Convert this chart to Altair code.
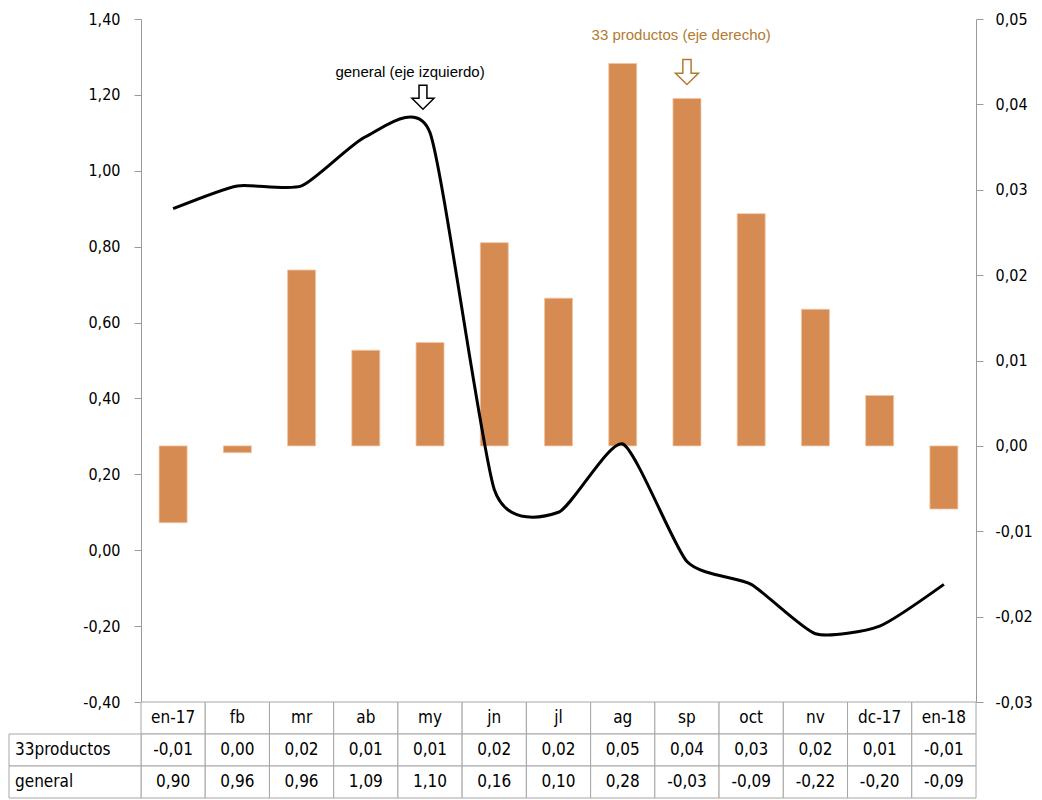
import altair as alt
import pandas as pd

meses = ["en-17", "fb", "mr", "ab", "my", "jn", "jl", "ag", "sp", "oct", "nv", "dc-17", "en-18"]
productos33 = [-0.0090, -0.0008, 0.0206, 0.0112, 0.0121, 0.0238, 0.0173, 0.0448, 0.0407, 0.0272, 0.0160, 0.0059, -0.0074]
productos33_tabla = ["-0,01", "0,00", "0,02", "0,01", "0,01", "0,02", "0,02", "0,05", "0,04", "0,03", "0,02", "0,01", "-0,01"]
general = [0.90, 0.96, 0.96, 1.09, 1.10, 0.16, 0.10, 0.28, -0.03, -0.09, -0.22, -0.20, -0.09]
filas = ["encabezado", "33productos", "general"]
ticks_izq = [-0.4, -0.2, 0.0, 0.2, 0.4, 0.6, 0.8, 1.0, 1.2, 1.4]
ticks_der = [-0.03, -0.02, -0.01, 0.0, 0.01, 0.02, 0.03, 0.04, 0.05]

anot_gen_texto = ["general (eje izquierdo)"]
anot_gen_mes = ["my"]
anot_gen_valor = [1.26]
flecha_gen_valor = [1.194]
anot_p33_texto = ["33 productos (eje derecho)"]
anot_p33_mes = ["sp"]
anot_p33_valor = [0.0481]
flecha_p33_valor = [0.0438]

NARANJA = "#D68B52"
MARRON = "#B47A30"
GRIS = "#9A9A9A"
FUENTE = "DejaVu Sans Condensed, DejaVu Sans"
FLECHA = "M -0.33 -1 L 0.33 -1 L 0.33 0.1 L 0.92 0.1 L 0 1 L -0.92 0.1 L -0.33 0.1 Z"

W, H = 835, 683

df = pd.DataFrame({"mes": meses, "p33": productos33, "gen": general})
xscale = alt.Scale(domain=meses, paddingInner=0, paddingOuter=0)
fmt = "replace(replace(format(datum.value, '.2f'), '.', ','), '\u2212', '-')"

yizq = alt.Scale(domain=[-0.4, 1.4], nice=False, zero=False)
yder = alt.Scale(domain=[-0.03, 0.05], nice=False, zero=False)

linea = alt.Chart(df).mark_line(color="black", strokeWidth=3, interpolate="cardinal", tension=0.4).encode(
    x=alt.X("mes:N", scale=xscale, axis=None),
    y=alt.Y("gen:Q", scale=yizq, axis=alt.Axis(
        orient="left", values=ticks_izq, labelExpr=fmt, grid=False, title=None,
        domainColor=GRIS, tickColor=GRIS, tickSize=7, labelPadding=14,
        labelFont=FUENTE, labelFontSize=16, labelColor="black")),
)

gen_df = pd.DataFrame({"t": anot_gen_texto, "mes": anot_gen_mes, "v": anot_gen_valor, "f": flecha_gen_valor})
gen_txt = alt.Chart(gen_df).mark_text(font="Liberation Sans", fontSize=15, color="black", dx=-20).encode(
    x=alt.X("mes:N", scale=xscale, axis=None), y=alt.Y("v:Q", scale=yizq), text="t:N")
gen_arrow = alt.Chart(gen_df).mark_point(shape=FLECHA, size=576, filled=True, fill="white", stroke="black",
                                         strokeWidth=1.5, opacity=1).encode(
    x=alt.X("mes:N", scale=xscale, axis=None, bandPosition=0.39), y=alt.Y("f:Q", scale=yizq))

izq = alt.layer(linea, gen_txt, gen_arrow)

barras = alt.Chart(df).mark_bar(color=NARANJA, size=28, stroke="#F0C7A4", strokeWidth=0.8).encode(
    x=alt.X("mes:N", scale=xscale, axis=None),
    y=alt.Y("p33:Q", scale=yder, axis=alt.Axis(
        orient="right", values=ticks_der, labelExpr=fmt, grid=False, title=None,
        domainColor=GRIS, tickColor=GRIS, tickSize=7, labelPadding=12,
        labelFont=FUENTE, labelFontSize=16, labelColor="black")),
)
p33_df = pd.DataFrame({"t": anot_p33_texto, "mes": anot_p33_mes, "v": anot_p33_valor, "f": flecha_p33_valor})
p33_txt = alt.Chart(p33_df).mark_text(font="Liberation Sans", fontSize=15, color=MARRON).encode(
    x=alt.X("mes:N", scale=xscale, axis=None, bandPosition=0.41), y=alt.Y("v:Q", scale=yder), text="t:N")
p33_arrow = alt.Chart(p33_df).mark_point(shape=FLECHA, size=625, filled=True, fill="white", stroke=MARRON,
                                         strokeWidth=1.5, opacity=1).encode(
    x=alt.X("mes:N", scale=xscale, axis=None, bandPosition=0.5), y=alt.Y("f:Q", scale=yder))

der = alt.layer(barras, p33_txt, p33_arrow)

superior = alt.layer(der, izq).resolve_scale(y="independent").properties(width=W, height=H)

# tabla inferior
celdas = []
for i, m in enumerate(meses):
    celdas.append({"mes": m, "fila": filas[0], "t": m})
    celdas.append({"mes": m, "fila": filas[1], "t": productos33_tabla[i]})
    celdas.append({"mes": m, "fila": filas[2], "t": f"{general[i]:.2f}".replace(".", ",")})
tdf = pd.DataFrame(celdas)
etq = pd.DataFrame({"fila": filas[1:], "t": filas[1:]})

yt = alt.Y("fila:N", scale=alt.Scale(domain=filas, paddingInner=0, paddingOuter=0), axis=None)
xt = alt.X("mes:N", scale=xscale, axis=None)

t_rect = alt.Chart(tdf).mark_rect(fill="white", stroke="#A6A6A6", strokeWidth=1).encode(x=xt, y=yt)
t_text = alt.Chart(tdf).mark_text(font=FUENTE, fontSize=17, color="black").encode(x=xt, y=yt, text="t:N")
e_rect = alt.Chart(etq).mark_rect(fill="white", stroke="#A6A6A6", strokeWidth=1).encode(
    x=alt.value(-132), x2=alt.value(0), y=yt)
e_text = alt.Chart(etq).mark_text(font=FUENTE, fontSize=17, color="black", align="left").encode(
    x=alt.value(-126), y=yt, text="t:N")

tabla = alt.layer(t_rect, t_text, e_rect, e_text).properties(width=W, height=96)

chart = alt.vconcat(superior, tabla, spacing=0, bounds="flush").properties(
    padding={"top": 3, "left": 0, "right": 0, "bottom": 0}
).configure_view(stroke=None).configure_concat(spacing=0)

chart.save("out.html", embed_options={"renderer": "svg", "actions": False})
